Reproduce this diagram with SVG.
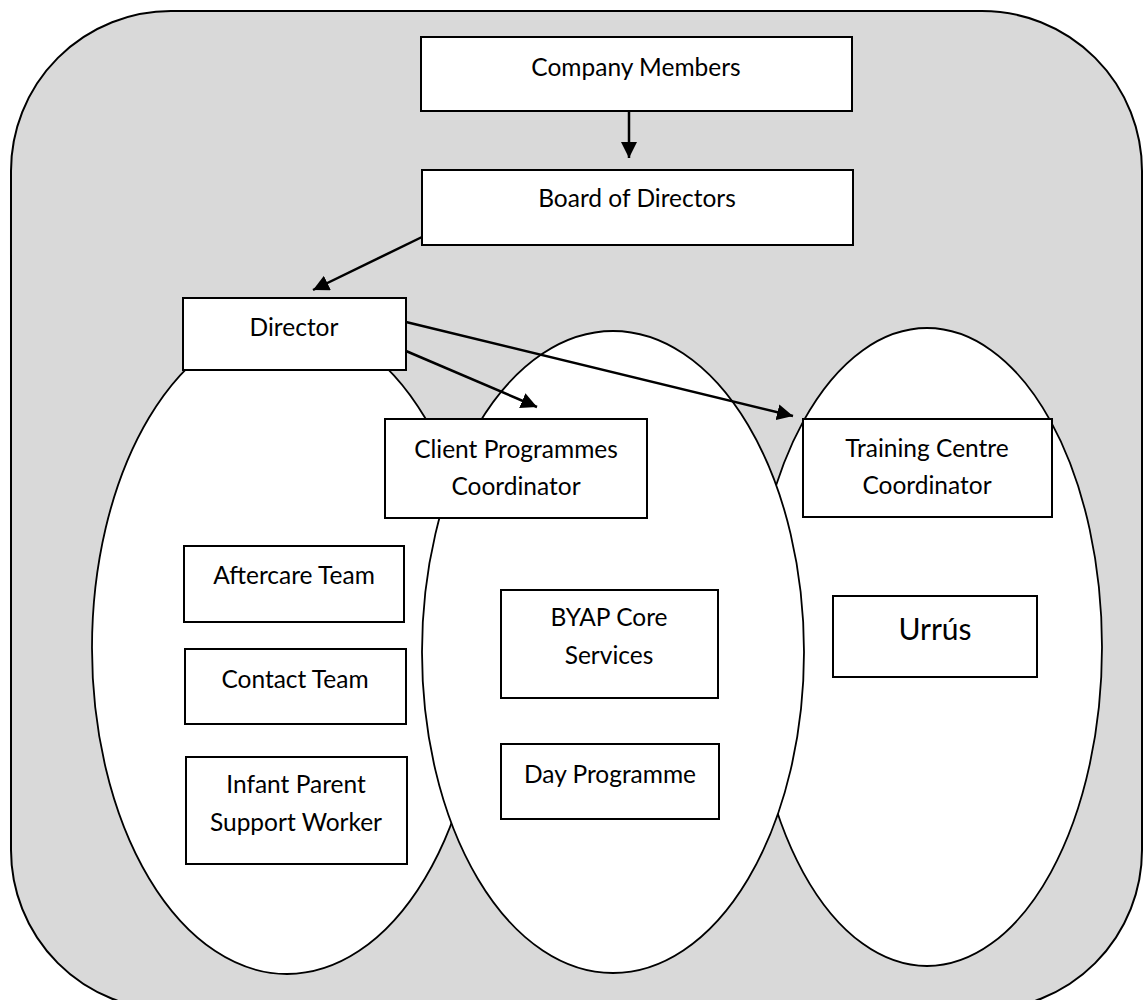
<svg xmlns="http://www.w3.org/2000/svg" width="1143" height="1000" viewBox="0 0 1143 1000">
<style>
.bg{fill:#d9d9d9;stroke:#000;stroke-width:2}
.ell{fill:#fff;stroke:#000;stroke-width:1.8}
.box{fill:#fff;stroke:#000;stroke-width:2}
.t{font-family:Lato,"Open Sans",sans-serif;font-size:24.5px;fill:#000;text-anchor:middle}
.big{font-size:30px}
.con{stroke:#000;stroke-width:2.5;fill:none;marker-end:url(#ah)}
</style>
<defs>
<marker id="ah" markerUnits="userSpaceOnUse" markerWidth="18" markerHeight="16" refX="16" refY="8" orient="auto">
<path d="M0,0 L16,8 L0,16 Z" fill="#000"/>
</marker>
</defs>
<rect class="bg" x="11" y="11" width="1131" height="999" rx="160" ry="160"/>
<g id="ellipses">
<ellipse id="ell-left" class="ell" cx="287" cy="648" rx="195" ry="326"/>
<ellipse id="ell-right" class="ell" cx="927" cy="647" rx="175" ry="319"/>
<ellipse id="ell-mid" class="ell" cx="613" cy="652" rx="191" ry="321"/>
</g>
<g id="company-members"><rect class="box" x="421" y="37" width="431" height="74"/><text class="t" x="636" y="76">Company Members</text></g>
<g id="board"><rect class="box" x="422" y="170" width="431" height="75"/><text class="t" x="637" y="207">Board of Directors</text></g>
<g id="director"><rect class="box" x="183" y="298" width="223" height="72"/><text class="t" x="294" y="336">Director</text></g>
<g id="client-coord"><rect class="box" x="385" y="419" width="262" height="99"/><text class="t" x="516" y="458">Client Programmes</text><text class="t" x="516" y="495">Coordinator</text></g>
<g id="training-coord"><rect class="box" x="803" y="419" width="249" height="98"/><text class="t" x="927" y="457">Training Centre</text><text class="t" x="927" y="494">Coordinator</text></g>
<g id="urrus"><rect class="box" x="833" y="596" width="204" height="81"/><text class="t big" x="935" y="640">Urrús</text></g>
<g id="byap"><rect class="box" x="501" y="590" width="217" height="108"/><text class="t" x="609" y="626">BYAP Core</text><text class="t" x="609" y="664">Services</text></g>
<g id="day-programme"><rect class="box" x="501" y="744" width="218" height="75"/><text class="t" x="610" y="783">Day Programme</text></g>
<g id="aftercare"><rect class="box" x="184" y="546" width="220" height="76"/><text class="t" x="294" y="584">Aftercare Team</text></g>
<g id="contact"><rect class="box" x="185" y="649" width="221" height="75"/><text class="t" x="295" y="688">Contact Team</text></g>
<g id="infant"><rect class="box" x="186" y="757" width="221" height="107"/><text class="t" x="296" y="793">Infant Parent</text><text class="t" x="296" y="831">Support Worker</text></g>
<g id="connectors">
<line class="con" x1="629" y1="111" x2="629" y2="158"/>
<line class="con" x1="422" y1="237" x2="313" y2="290"/>
<line class="con" x1="406" y1="351" x2="537" y2="407"/>
<line class="con" x1="406" y1="322" x2="793" y2="416"/>
</g>
</svg>
